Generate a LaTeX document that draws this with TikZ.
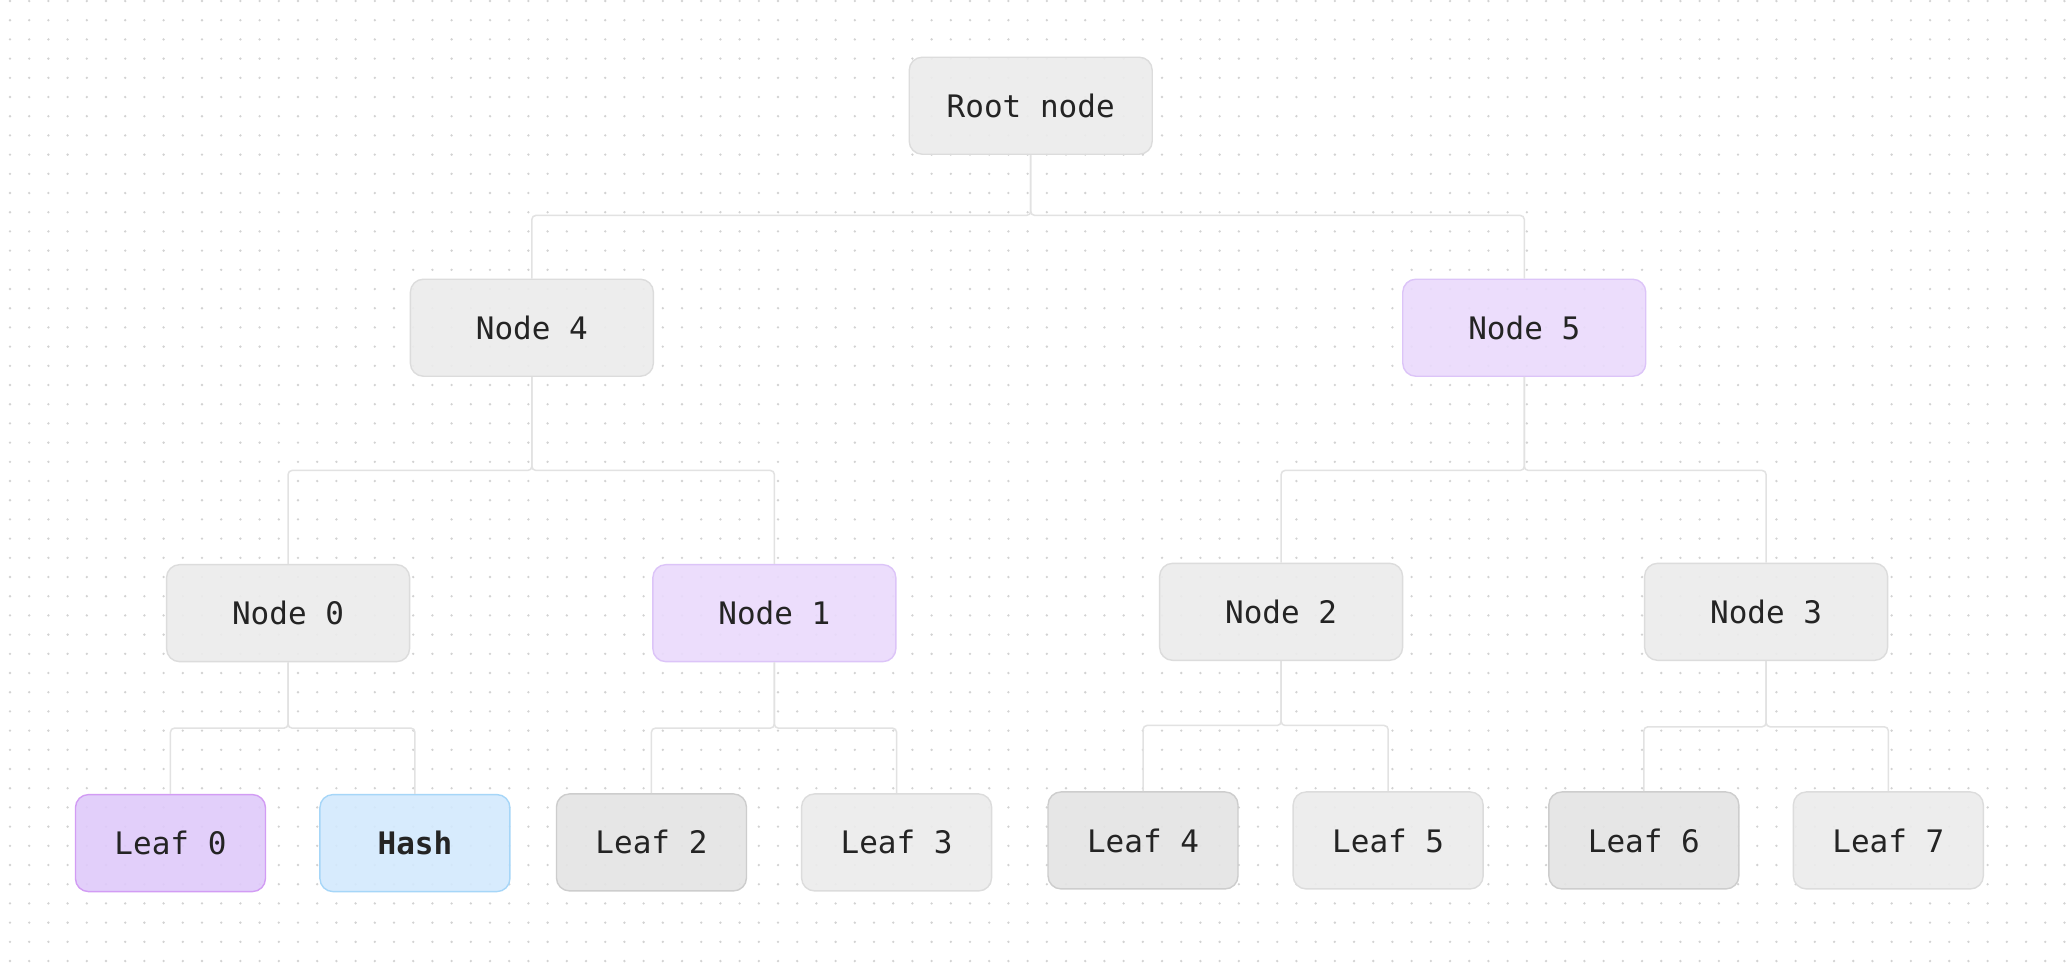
\documentclass[tikz,border=0pt]{standalone}
\usepackage{fontspec}
\setmonofont{DejaVu Sans Mono}
\usetikzlibrary{positioning}

\definecolor{txtc}{HTML}{242424}
\definecolor{dotc}{HTML}{D2D2D2}
\definecolor{linkc}{HTML}{E2E2E2}
\definecolor{greyfill}{HTML}{ECECEC}
\definecolor{greyline}{HTML}{DCDCDC}
\definecolor{darkfill}{HTML}{E4E4E4}
\definecolor{darkline}{HTML}{CDCDCD}
\definecolor{lilfill}{HTML}{EADAFC}
\definecolor{lilline}{HTML}{DCC4F8}
\definecolor{violfill}{HTML}{DFCAFA}
\definecolor{violline}{HTML}{D29CF4}
\definecolor{bluefill}{HTML}{D3E9FD}
\definecolor{blueline}{HTML}{A6D6F8}

\tikzset{
  box/.style={rounded corners=6.5pt, line width=0.7pt, fill opacity=0.9, text opacity=1,
    minimum height=48.5pt, inner sep=0pt, text=txtc,
    font=\ttfamily\fontsize{15.5}{18}\selectfont},
  inode/.style={box, minimum width=121.5pt},
  leaf/.style={box, minimum width=95pt},
  grey/.style={fill=greyfill, draw=greyline},
  dark/.style={fill=darkfill, draw=darkline},
  lilac/.style={fill=lilfill, draw=lilline},
  violet/.style={fill=violfill, draw=violline},
  blue/.style={fill=bluefill, draw=blueline},
  link/.style={draw=linkc, line width=0.75pt, rounded corners=2pt}
}

\begin{document}
\begin{tikzpicture}[x=0.6607pt, y=-0.6607pt]

%canvas
\useasboundingbox (0,0) rectangle (1568,734);
\fill[white] (0,0) rectangle (1568,734);

%dots
\foreach \i in {0,...,107}
\foreach \j in {0,...,50}
\fill[dotc] (7.57+14.53*\i, 0.76+14.53*\j) circle[radius=0.65pt];

%root and inner nodes
\node[inode, grey] (root) at (780,80) {Root node};
\node[inode, grey] (n4) at (402.5,248) {Node 4};
\node[inode, lilac] (n5) at (1153.5,248) {Node 5};
\node[inode, grey] (n0) at (218,464) {Node 0};
\node[inode, lilac] (n1) at (586,464) {Node 1};
\node[inode, grey] (n2) at (969.5,463) {Node 2};
\node[inode, grey] (n3) at (1336.5,463) {Node 3};

%leaves
\node[leaf, violet] (l0) at (129,638) {Leaf 0};
\node[leaf, blue, font=\ttfamily\bfseries\fontsize{15.5}{18}\selectfont] (hash) at (314,638) {Hash};
\node[leaf, dark] (l2) at (493,637.5) {Leaf 2};
\node[leaf, grey] (l3) at (678.5,637.5) {Leaf 3};
\node[leaf, dark] (l4) at (865,636) {Leaf 4};
\node[leaf, grey] (l5) at (1050.5,636) {Leaf 5};
\node[leaf, dark] (l6) at (1244,636) {Leaf 6};
\node[leaf, grey] (l7) at (1429,636) {Leaf 7};

%junctions
\coordinate (jr) at (780,163);
\coordinate (j4) at (402.5,356);
\coordinate (j5) at (1153.5,356);
\coordinate (j0) at (218,551);
\coordinate (j1) at (586,551);
\coordinate (j2) at (969.5,549);
\coordinate (j3) at (1336.5,550);

%links
\foreach \p/\j/\a/\b in {root/jr/n4/n5, n4/j4/n0/n1, n5/j5/n2/n3,
  n0/j0/l0/hash, n1/j1/l2/l3, n2/j2/l4/l5, n3/j3/l6/l7} {
  \draw[link] (\p.south) -- (\j) -| (\a.north);
  \draw[link] (\p.south) -- (\j) -| (\b.north);
}

\end{tikzpicture}
\end{document}
